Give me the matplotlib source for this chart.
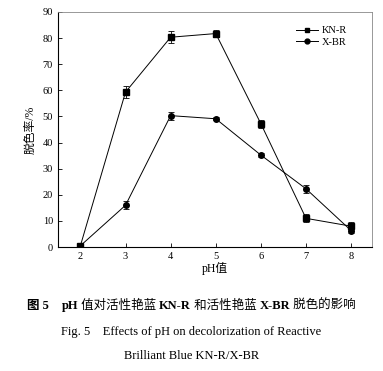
import matplotlib
matplotlib.use('Agg')
from matplotlib import pyplot as plt
from matplotlib.lines import Line2D

ph = [2, 3, 4, 5, 6, 7, 8]
knr = [0.5, 59.3, 80.3, 81.7, 47.2, 11.0, 8.0]
knr_err = [0.8, 2.2, 2.4, 1.2, 1.6, 1.5, 1.5]
xbr = [0.5, 16.0, 50.3, 49.1, 35.2, 22.3, 6.3]
xbr_err = [0.5, 1.5, 1.5, 0.5, 0.8, 1.5, 1.0]

fams = ['Liberation Serif', 'Noto Sans CJK SC']
plt.rcParams['font.family'] = fams

fig = plt.figure(figsize=(3.83, 3.71), dpi=100)
ax = fig.add_axes([0.151, 0.334, 0.82, 0.634])

ax.errorbar(ph, knr, yerr=knr_err, color='black', marker='s', markersize=4,
            linewidth=0.7, elinewidth=0.6, capsize=2, capthick=0.6)
ax.errorbar(ph, xbr, yerr=xbr_err, color='black', marker='o', markersize=4,
            linewidth=0.7, elinewidth=0.6, capsize=2, capthick=0.6)

ax.set_xlim(1.5, 8.46)
ax.set_ylim(0, 90)
ax.set_xticks(ph)
ax.set_yticks(range(0, 91, 10))
ax.tick_params(labelsize=7.5, direction='in', length=3, width=0.6)
ax.set_xlabel('pH值', fontsize=8.5, labelpad=1)
ax.set_ylabel('脱色率/%', fontsize=8.5, labelpad=4)
for s in ['left', 'bottom']:
    ax.spines[s].set_linewidth(0.8)
for s in ['top', 'right']:
    ax.spines[s].set_color('#888888')
    ax.spines[s].set_linewidth(0.6)

handles = [Line2D([], [], color='black', marker='s', markersize=3.5, linewidth=0.7),
           Line2D([], [], color='black', marker='o', markersize=3.5, linewidth=0.7)]
ax.legend(handles, ['KN-R', 'X-BR'], loc='upper right', frameon=False, fontsize=7.5,
          handlelength=2.2, handletextpad=0.3, labelspacing=0.2,
          bbox_to_anchor=(0.95, 0.98))

# caption with mixed weights
renderer = fig.canvas.get_renderer()


def mixed_line(pieces, y, size):
    texts = []
    total = 0
    for s, w in pieces:
        t = fig.text(0, y, s, fontsize=size, fontweight=w, va='center', ha='left')
        bb = t.get_window_extent(renderer)
        texts.append((t, bb.width))
        total += bb.width
    x = (fig.bbox.width - total) / 2
    for t, w in texts:
        t.set_x(x / fig.bbox.width)
        x += w


mixed_line([('图 5', 'bold'), ('    ', 'normal'), ('pH', 'bold'),
            (' 值对活性艳蓝 ', 'normal'), ('KN-R', 'bold'),
            (' 和活性艳蓝 ', 'normal'), ('X-BR', 'bold'),
            (' 脱色的影响', 'normal')], 1 - 306 / 371, 9)
fig.text(0.5, 1 - 332 / 371, 'Fig. 5    Effects of pH on decolorization of Reactive',
         ha='center', va='center', fontsize=9)
fig.text(0.5, 1 - 356 / 371, 'Brilliant Blue KN-R/X-BR',
         ha='center', va='center', fontsize=9)

fig.savefig('out.png', dpi=100)
